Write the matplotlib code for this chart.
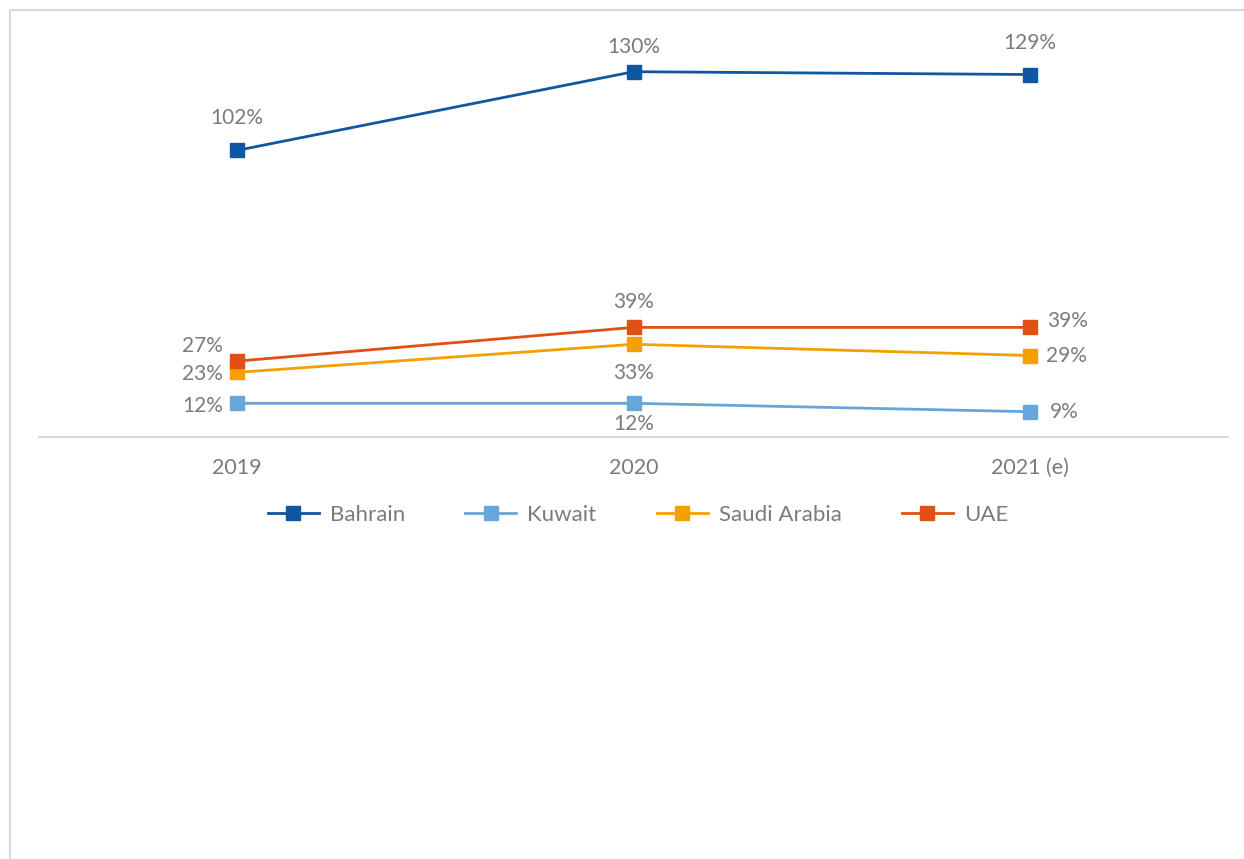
import matplotlib.pyplot as plt
from matplotlib.lines import Line2D

years = ['2019', '2020', '2021 (e)']
bahrain = [102, 130, 129]
kuwait = [12, 12, 9]
saudi = [23, 33, 29]
uae = [27, 39, 39]

series = [('Bahrain', bahrain, '#0F57A0'),
          ('Kuwait', kuwait, '#66A6DB'),
          ('Saudi Arabia', saudi, '#F4A000'),
          ('UAE', uae, '#DE5014')]

# label placement per point: (dx px, dy px, ha)
placement = {
    'Bahrain': [(0, 32, 'center'), (0, 25, 'center'), (0, 32, 'center')],
    'Kuwait': [(-14, -3, 'right'), (0, -21, 'center'), (20, 0, 'left')],
    'Saudi Arabia': [(-14, -2, 'right'), (0, -29, 'center'), (16, 0, 'left')],
    'UAE': [(-14, 15, 'right'), (0, 25, 'center'), (17, 6, 'left')],
}

plt.rcParams['font.family'] = ['Lato', 'DejaVu Sans']
txt_color = '#7b7b7b'

fig = plt.figure(figsize=(12.44, 8.59), dpi=100)
ax = fig.add_axes([39 / 1244, (859 - 437) / 859, 1189 / 1244, 393.4 / 859])

x = list(range(len(years)))
px = 0.72  # points per pixel at 100 dpi
for name, vals, col in series:
    ax.plot(x, vals, color=col, lw=2.0, marker='s', ms=10, label=name, zorder=3)
    for i, v in enumerate(vals):
        dx, dy, ha = placement[name][i]
        ax.annotate(f'{v}%', (i, v), xytext=(dx * px, dy * px), textcoords='offset points',
                    ha=ha, va='center', fontsize=15, color=txt_color)

ax.set_xlim(-0.5, 2.5)
ax.set_ylim(0, 140)
ax.set_xticks(x)
ax.set_xticklabels(years, fontsize=15.5, color=txt_color)
ax.tick_params(axis='x', length=0, pad=15)
ax.set_yticks([])
for s in ['top', 'right', 'left']:
    ax.spines[s].set_visible(False)
ax.spines['bottom'].set_color('#d9d9d9')
ax.spines['bottom'].set_linewidth(1.5)

fig.legend(loc='center', bbox_to_anchor=(638 / 1244, (859 - 515) / 859), ncol=4, frameon=False,
           fontsize=16, labelcolor=txt_color, handlelength=2.3, columnspacing=2.7,
           handletextpad=0.5)

# chart border (only top and left visible in the crop)
fig.add_artist(Line2D([10 / 1244, 1], [1 - 10 / 859, 1 - 10 / 859], color='#d9d9d9', lw=1.5))
fig.add_artist(Line2D([10 / 1244, 10 / 1244], [0, 1 - 10 / 859], color='#d9d9d9', lw=1.5))

fig.savefig('out.png', dpi=100)
